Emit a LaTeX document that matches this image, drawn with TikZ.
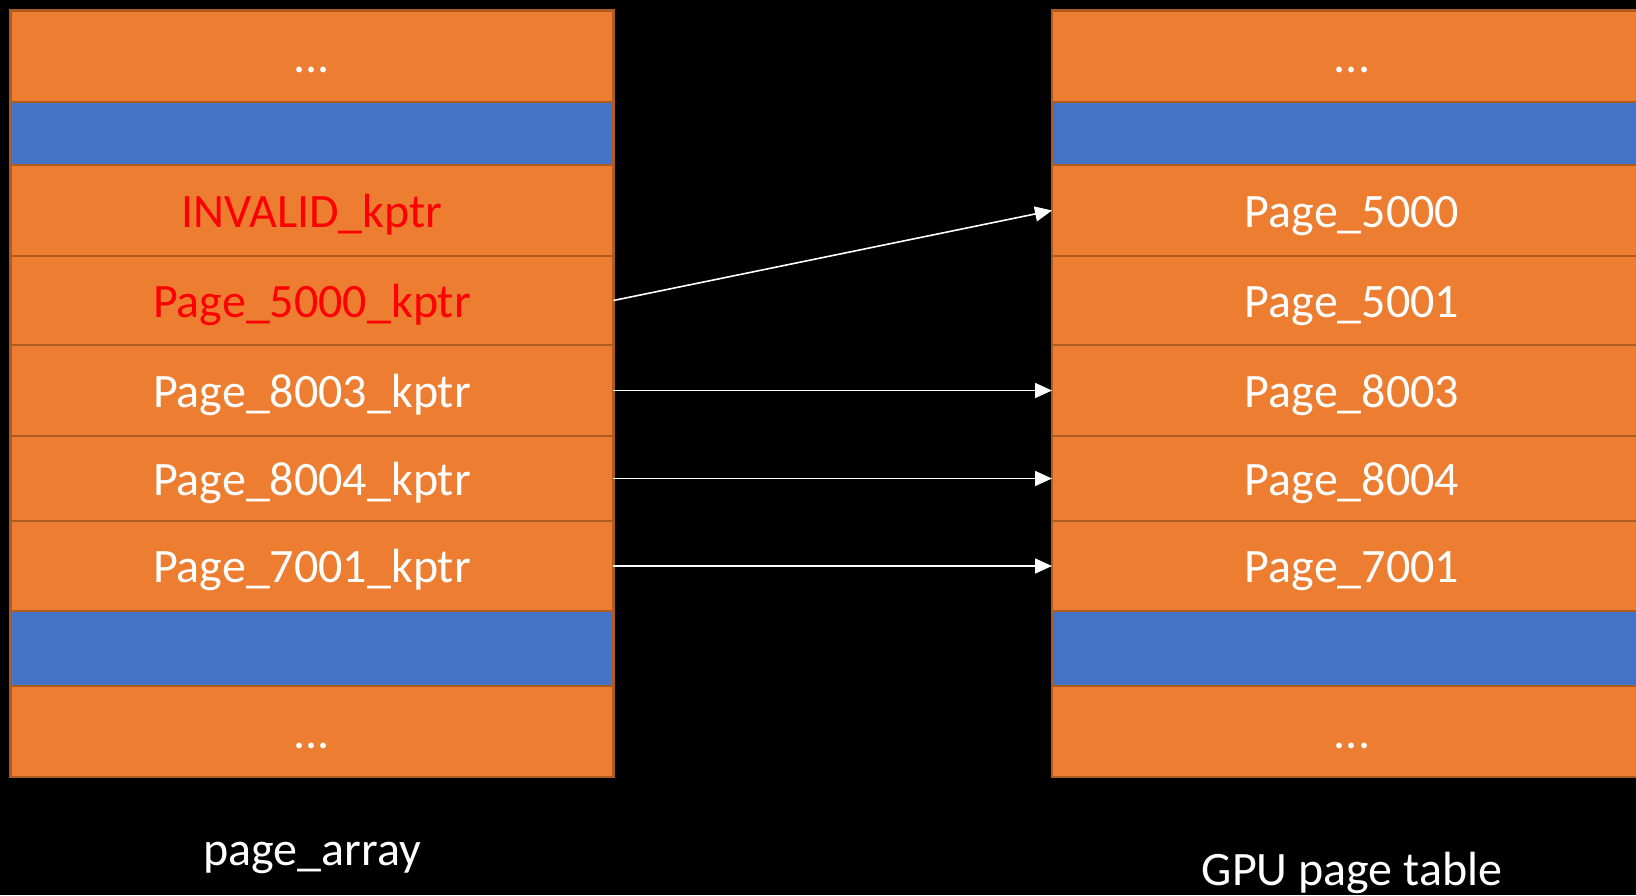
\documentclass[tikz,border=0pt]{standalone}
\usepackage{fontspec}
\setmainfont{Carlito}
\usetikzlibrary{arrows.meta}
\definecolor{cellorange}{HTML}{ED7D31}
\definecolor{celledge}{HTML}{AE5A21}
\definecolor{cellblue}{HTML}{4472C4}
\definecolor{alertred}{HTML}{FF0000}
\tikzset{
  cell/.style={draw=celledge, line width=2.5pt, fill=cellorange, anchor=north west,
    inner sep=0pt, outer sep=0pt, text=white,
    font=\fontsize{48}{58}\selectfont, text height=40pt, text depth=7pt},
  gap/.style={cell, fill=cellblue},
  bad/.style={text=alertred},
  caption/.style={text=white, font=\fontsize{48}{58}\selectfont,
    text height=40pt, text depth=7pt, inner sep=0pt},
  link/.style={draw=white, line width=1.6pt, -{Triangle[length=17pt, width=15pt]}}
}
\begin{document}
\begin{tikzpicture}[x=1pt, y=-1pt]
  \fill[black] (0,0) rectangle (1636,895);
  \useasboundingbox (0,0) rectangle (1636,895);
  \clip (0,0) rectangle (1636,895);

  % page_array column
  \node[gap,  minimum width=603pt, minimum height=63pt] (L2) at (10.4,102) {};
  \node[gap,  minimum width=603pt, minimum height=75pt] (L8) at (10.4,611) {};
  \node[cell, minimum width=603pt, minimum height=91.6pt] (L1) at (10.4,10.4) {...};
  \node[cell, bad, minimum width=603pt, minimum height=91pt] (L3) at (10.4,165) {INVALID\_kptr};
  \node[cell, bad, minimum width=603pt, minimum height=89pt] (L4) at (10.4,256) {Page\_5000\_kptr};
  \node[cell, minimum width=603pt, minimum height=91pt] (L5) at (10.4,345) {Page\_8003\_kptr};
  \node[cell, minimum width=603pt, minimum height=85pt] (L6) at (10.4,436) {Page\_8004\_kptr};
  \node[cell, minimum width=603pt, minimum height=90pt] (L7) at (10.4,521) {Page\_7001\_kptr};
  \node[cell, minimum width=603pt, minimum height=91pt] (L9) at (10.4,686) {...};

  % GPU page table column (runs past the right edge)
  \tikzset{wide/.style={minimum width=600pt, text width=580pt, align=center}}
  \node[gap,  wide, minimum height=63pt] (R2) at (1052,102) {};
  \node[gap,  wide, minimum height=75pt] (R8) at (1052,611) {};
  \node[cell, wide, minimum height=91.6pt] (R1) at (1052,10.4) {...};
  \node[cell, wide, minimum height=91pt] (R3) at (1052,165) {Page\_5000};
  \node[cell, wide, minimum height=89pt] (R4) at (1052,256) {Page\_5001};
  \node[cell, wide, minimum height=91pt] (R5) at (1052,345) {Page\_8003};
  \node[cell, wide, minimum height=85pt] (R6) at (1052,436) {Page\_8004};
  \node[cell, wide, minimum height=90pt] (R7) at (1052,521) {Page\_7001};
  \node[cell, wide, minimum height=91pt] (R9) at (1052,686) {...};

  % captions
  \node[caption] (capL) at (312,848.5) {page\_array};
  \node[caption] (capR) at (1352,868.5) {GPU page table};

  % mappings
  \draw[link] (L4.east) -- (R3.west);
  \draw[link] (L5.east) -- (R5.west);
  \draw[link] (L6.east) -- (R6.west);
  \draw[link] (L7.east) -- (R7.west);
\end{tikzpicture}
\end{document}
